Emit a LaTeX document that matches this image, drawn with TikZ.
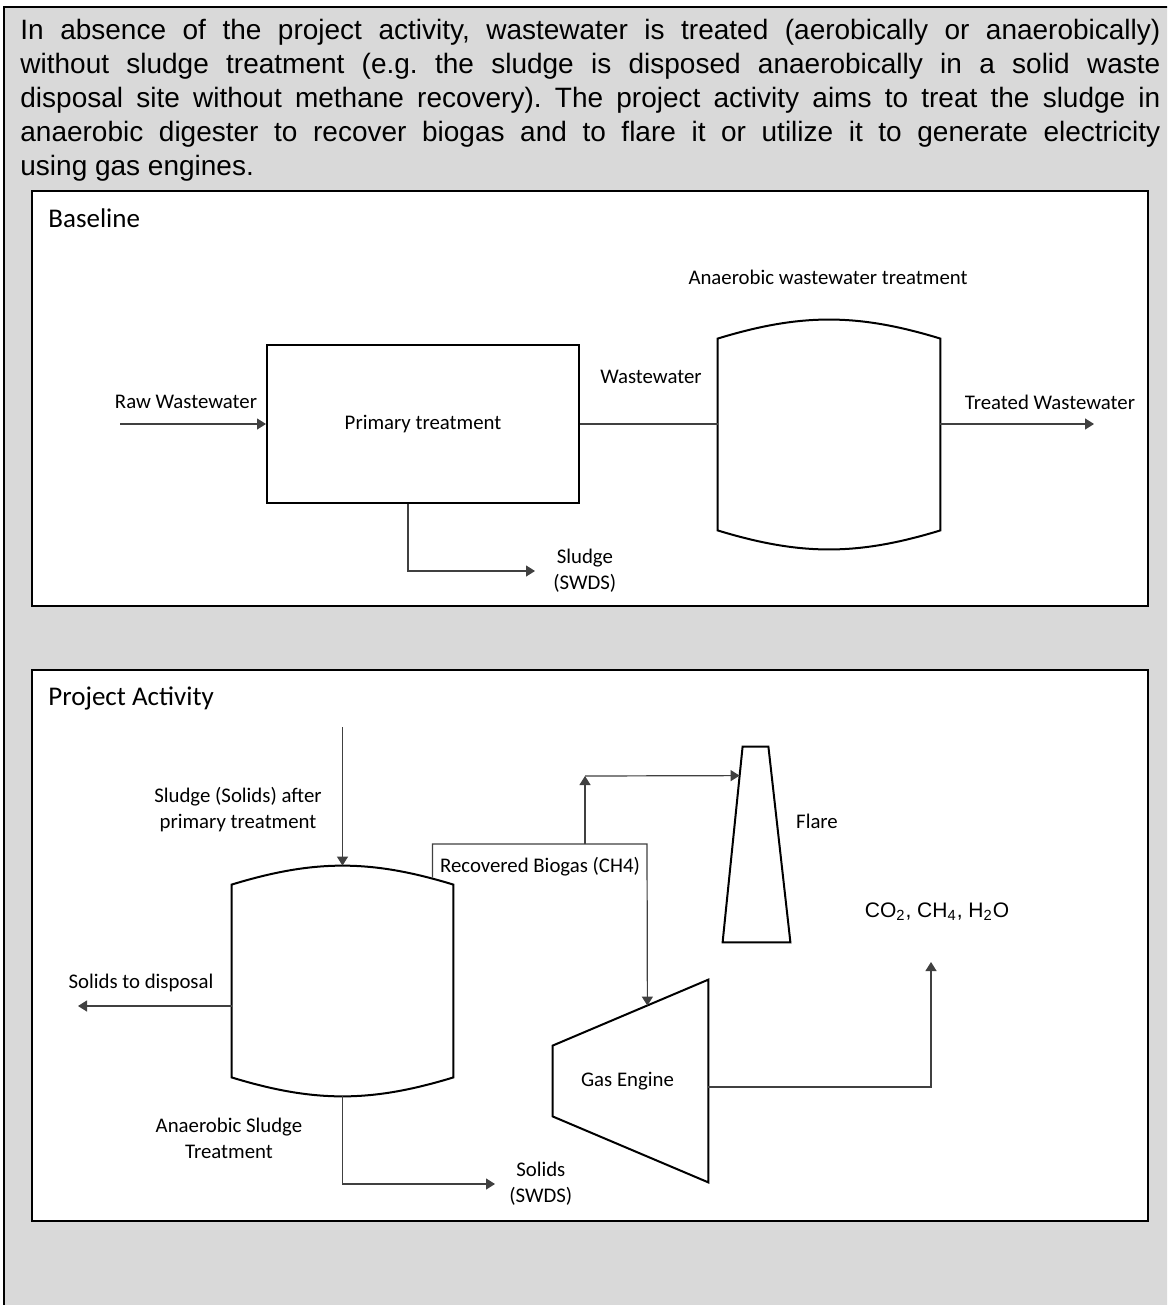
\documentclass[tikz,border=0pt]{standalone}
\usepackage{fontspec}
\setmainfont{Carlito}
\newfontfamily\arialfont{Liberation Sans}
\usetikzlibrary{arrows.meta,calc,positioning}
\definecolor{panelgray}{HTML}{D9D9D9}
\definecolor{linegray}{HTML}{404040}
\frenchspacing
\tikzset{unit node/.style={rectangle,draw=black,fill=white,line width=1pt,minimum width=156pt,minimum height=79pt,inner sep=0pt,font=\fontsize{10.4}{13}\selectfont},
         vessel node/.style={rectangle,draw=none,inner sep=0pt,font=\fontsize{10.4}{13}\selectfont},
         vessel/.style={draw=black,fill=white,line width=1pt},
         flow edge/.style={draw=linegray,line width=0.6pt},
         flow label/.style={rectangle,draw=none,fill=none,inner sep=0pt,align=center,font=\fontsize{10.4}{13}\selectfont},
         title label/.style={flow label,font=\fontsize{13.5}{16}\selectfont},
         frame box/.style={draw=black,fill=white,line width=1pt},
}

\begin{document}
\begin{tikzpicture}[x=0.5pt,y=-0.5pt,
>={Triangle[length=4.5pt,width=5.5pt]}]
\useasboundingbox (0,0) rectangle (1167,1305);
\clip (0,0) rectangle (1167,1305);
% \draw[help lines,step=50] (0,0) grid (1167,1305);
\fill[panelgray] (4,7) rectangle (1180,1320);
\draw[line width=1.2pt] (4,1320) -- (4,7) -- (1180,7);
\node[anchor=north west,inner sep=0pt,text width=570pt,align=justify,
      font=\arialfont\fontsize{14}{17}\selectfont] (intro) at (20,18.6) {In absence of the project activity, wastewater is treated (aerobically or anaerobically)\linebreak
without sludge treatment (e.g. the sludge is disposed anaerobically in a solid waste\linebreak
disposal site without methane recovery). The project activity aims to treat the sludge in\linebreak
anaerobic digester to recover biogas and to flare it or utilize it to generate electricity\linebreak
using gas engines.};

\draw[frame box] (32,191) rectangle (1148,606);
\draw[frame box] (32,670) rectangle (1148,1221);
\node[title label,anchor=west] (base) at (48,218) {Baseline};
\node[title label,anchor=west] (proj) at (48,698) {Project Activity};

% baseline
\node[unit node] (prim) at (423,424) {Primary treatment};
\node[vessel node,minimum width=111pt,minimum height=114.5pt] (tank1) at (829,434.5) {};
\coordinate (in1) at (120,424);
\coordinate (out1) at (1094,424);
\coordinate (s1) at (535,571);

% project activity
\node[vessel node,minimum width=110.5pt,minimum height=115pt] (tank2) at (342.5,981) {};
\node[vessel node,minimum width=77.5pt,minimum height=101pt] (engine) at (630.5,1081) {};
\node[vessel node,minimum width=33.5pt,minimum height=97.5pt] (flare) at (756.5,844.5) {};
\coordinate (in2) at (342.5,727);
\coordinate (out2) at (78,1006);
\coordinate (s2) at (495,1184);
\coordinate (bg0) at ($(tank2.north east)+(-21,12)$);
\coordinate (bgc) at (647,844);
\coordinate (bgsplit) at (585,844);
\coordinate (bgup) at (585,776);
\coordinate (engin) at ($(engine.north east)+(-61,26)$);
\coordinate (flarein) at ($(flare.north west)+(17,29)$);
\coordinate (exh) at (931,962);

\foreach \t in {tank1,tank2}
    \draw[vessel] ([yshift=-9.5pt]\t.north west) to[bend left=17] ([yshift=-9.5pt]\t.north east)
        -- ([yshift=9.5pt]\t.south east) to[bend left=17] ([yshift=9.5pt]\t.south west) -- cycle;
\draw[vessel] (engine.north east) -- (engine.south east) -- ([yshift=33pt]engine.south west)
    -- ([yshift=-33pt]engine.north west) -- cycle;
\node[flow label] (eng) at ([xshift=-1.5pt]engine.center) {Gas Engine};
\draw[vessel] ([xshift=10pt]flare.north west) -- ([xshift=-11pt]flare.north east)
    -- (flare.south east) -- (flare.south west) -- cycle;

\draw[flow edge,->] (in1) -- (prim.west);
\draw[flow edge] (prim.east) -- (prim.east -| tank1.west);
\draw[flow edge,->] (prim.east -| tank1.east) -- (out1);
\draw[flow edge,->] ($(prim.south)+(-15,0)$) |- (s1);

\draw[flow edge,->] (in2) -- (tank2.north);
\draw[flow edge,->] ($(tank2.west)+(0,25)$) -- (out2);
\draw[flow edge,->] (tank2.south) |- (s2);
\draw[flow edge,->] (bg0) |- (bgc) -- (engin);
\draw[flow edge,->] (bgsplit) -- (bgup);
\draw[flow edge,->] (bgup) -- (flarein);
\draw[flow edge,->] ($(engine.east)+(0,6)$) -| (exh);

\node[flow label] (raw) at (186,402) {Raw Wastewater};
\node[flow label] (ww) at (651,377) {Wastewater};
\node[flow label] (treated) at (1050,402) {Treated Wastewater};
\node[flow label] (awt) at (828,277) {Anaerobic wastewater treatment};
\node[flow label,right=9pt of s1] (sludge) {Sludge\\(SWDS)};
\node[flow label] (feed) at (238,810) {Sludge (Solids) after\\primary treatment};
\node[flow label] (todisp) at (141,983) {Solids to disposal};
\node[flow label] (ast) at (229,1138) {Anaerobic Sludge\\Treatment};
\node[flow label,right=7pt of s2] (solids) {Solids\\(SWDS)};
\node[flow label] (biogas) at (540,867) {Recovered Biogas (CH4)};
\node[flow label] (flarelbl) at (817,821) {Flare};
\node[flow label,font=\arialfont\fontsize{10.5}{13}\selectfont] (exhaust) at (937,912) {CO\textsubscript{2}, CH\textsubscript{4}, H\textsubscript{2}O};
\end{tikzpicture}
\end{document}
